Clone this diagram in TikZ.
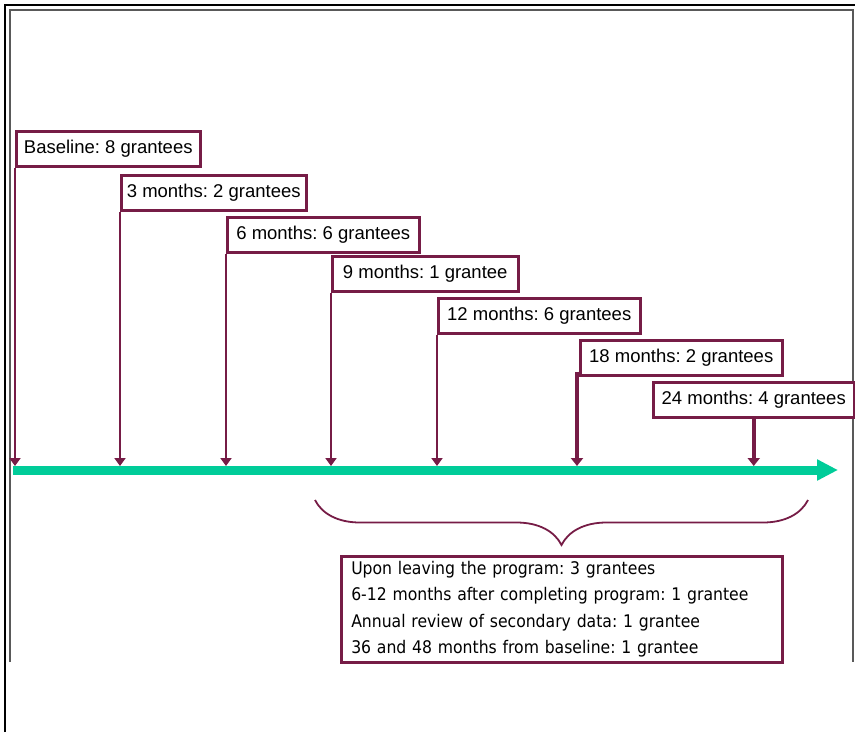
\documentclass[tikz,border=0pt]{standalone}
\usepackage{fontspec}
\setmainfont{Liberation Sans}
\newfontfamily\notefont{DejaVu Sans Condensed}
\usetikzlibrary{arrows.meta,decorations.pathreplacing,positioning}
\definecolor{wine}{RGB}{118,28,70}
\definecolor{sea}{RGB}{0,204,153}
\frenchspacing

\begin{document}
\begin{tikzpicture}[x=1pt,y=-1pt,
  stamp/.style={draw=wine,line width=2.5pt,fill=white,anchor=north west,inner sep=0pt,
    minimum width=#1,minimum height=35pt,font=\fontsize{18.5}{22}\selectfont},
  drop/.style={draw=wine,line width=2.5pt,-{Triangle[width=11pt,length=8pt]}},
  heavydrop/.style={drop,line width=4pt,-{Triangle[width=12pt,length=8pt]}}]
  \useasboundingbox (0,0) rectangle (855,732);

  % frame
  \draw[line width=2.5pt] (5,732) -- (5,5) -- (855,5);
  \draw[black!65,line width=2pt] (10,662) -- (10,10) -- (853,10) -- (853,662);

  % time line
  \coordinate (start) at (13,470);
  \coordinate (end) at (838,470);
  \coordinate (hit) at (0,466);
  \draw[sea,line width=9pt,-{Triangle[width=20pt,length=21pt]}] (start) -- (end);

  % the data points
  \node[stamp=184pt] (base) at (15,130) {Baseline: 8 grantees};
  \node[stamp=185pt] (three) at (120,174) {3 months: 2 grantees};
  \node[stamp=192pt] (six) at (226,216) {6 months: 6 grantees};
  \node[stamp=186pt] (nine) at (331,255) {9 months: 1 grantee};
  \node[stamp=202pt] (twelve) at (437,297) {12 months: 6 grantees};
  \node[stamp=202pt] (eighteen) at (579,339) {18 months: 2 grantees};
  \node[stamp=201pt] (twentyfour) at (652,381) {24 months: 4 grantees};

  \draw[drop] (base.south west) -- (base.south west |- hit);
  \draw[drop] (three.south west) -- (three.south west |- hit);
  \draw[drop] (six.south west) -- (six.south west |- hit);
  \draw[drop] (nine.south west) -- (nine.south west |- hit);
  \draw[drop] (twelve.south west) -- (twelve.south west |- hit);
  \draw[heavydrop] ([xshift=-2pt,yshift=5pt]eighteen.south west) -- ([xshift=-2pt]eighteen.south west |- hit);
  \draw[heavydrop] (twentyfour.south) -- (twentyfour.south |- hit);

  % later follow-up
  \coordinate (spanL) at (315,500);
  \coordinate (spanR) at (808,500);
  \draw[wine,line width=1.8pt,decorate,decoration={brace,amplitude=45pt}] (spanR) -- (spanL);

  \node[draw=wine,line width=2.5pt,anchor=north west,text width=421pt,inner xsep=10pt,inner ysep=0pt,
    minimum height=106pt,align=left,font=\notefont\fontsize{17.4}{26.3}\selectfont] (later) at (340,555)
    {Upon leaving the program: 3 grantees\\
     6-12 months after completing program: 1 grantee\\
     Annual review of secondary data: 1 grantee\\
     36 and 48 months from baseline: 1 grantee};
\end{tikzpicture}
\end{document}
